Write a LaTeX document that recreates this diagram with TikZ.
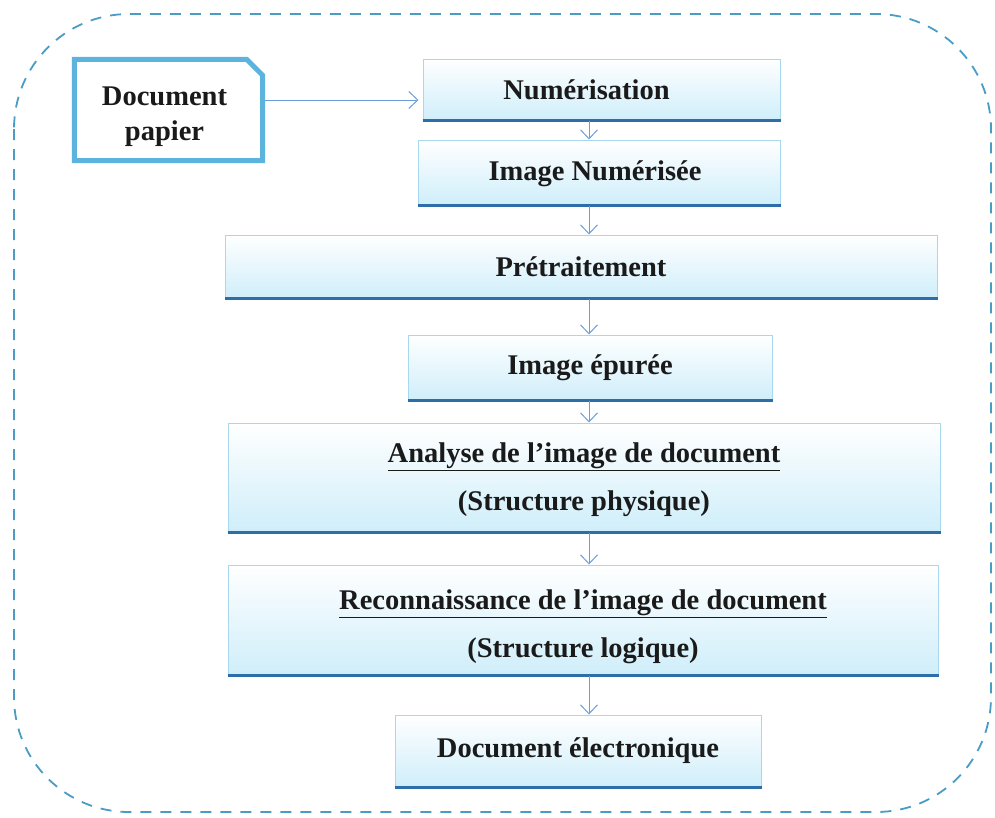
\documentclass[tikz,border=0pt]{standalone}
\usepackage{fontspec}
\setmainfont{Liberation Serif}
\usetikzlibrary{arrows.meta}
\definecolor{framecol}{HTML}{4A9CC4}
\definecolor{paperblue}{HTML}{5CB3DD}
\definecolor{arrowblue}{HTML}{6A9FDA}
\definecolor{boxedge}{HTML}{A8D8EE}
\definecolor{boxbottom}{HTML}{2D6EA8}
\definecolor{boxfill}{HTML}{CFEEFA}
\definecolor{inkcol}{HTML}{1A1A1A}
% text moved by (dx,dy) inside its node, node size unchanged
\newcommand\movedtext[3]{\hbox to 0pt{\hss\kern#1\kern#1\raisebox{#2}[\height][\depth]{#3}\hss}}
\begin{document}
\begin{tikzpicture}[x=1pt,y=-1pt,
  stepbox/.style={draw=boxedge, line width=1pt, top color=white, bottom color=boxfill,
    inner sep=0pt, text=inkcol, align=center,
    font=\bfseries\fontsize{28.5}{48}\selectfont},
  paperbox/.style={rectangle, fill=white, inner sep=0pt, text=inkcol, align=center,
    font=\bfseries\fontsize{28.5}{35}\selectfont},
  paperline/.style={draw=paperblue, line width=5pt, line join=miter},
  bottomline/.style={draw=boxbottom, line width=3pt},
  arr/.style={draw=arrowblue, line width=1pt, -{Straight Barb[length=9pt,width=17pt]}},
  frame/.style={draw=framecol, line width=1.8pt, dash pattern=on 11pt off 9pt, rounded corners=115pt}]
\useasboundingbox (0,0) rectangle (995,817);

% outer dashed frame
\draw[frame] (14,14) rectangle (991,812);

% process steps
\node[stepbox, minimum width=357pt, minimum height=61pt] (num) at (601.5,89.5)
  {\movedtext{-15pt}{0pt}{Numérisation}};
\node[stepbox, minimum width=362pt, minimum height=65pt] (imgnum) at (599,172.5)
  {\movedtext{-4pt}{-1pt}{Image Numérisée}};
\node[stepbox, minimum width=712pt, minimum height=63pt] (pretr) at (581,266.5) {Prétraitement};
\node[stepbox, minimum width=364pt, minimum height=65pt] (imgep) at (590,367.5) {Image épurée};
\node[stepbox, minimum width=712pt, minimum height=109pt] (analyse) at (584,477.5)
  {\movedtext{0pt}{-2pt}{\underline{Analyse de l’image de document}}\\
   \movedtext{0pt}{-2pt}{(Structure physique)}};
\node[stepbox, minimum width=710pt, minimum height=110pt] (recon) at (583,620)
  {\movedtext{0pt}{-7pt}{\underline{Reconnaissance de l’image de document}}\\
   \movedtext{0pt}{-7pt}{(Structure logique)}};
\node[stepbox, minimum width=366pt, minimum height=72pt] (docel) at (578,751) {Document électronique};

% darker lower edge of each step
\foreach \n in {num,imgnum,pretr,imgep,analyse,recon,docel}
  \draw[bottomline] (\n.south west) -- (\n.south east);

% paper document with a cut corner
\node[paperbox, minimum width=188pt, minimum height=101pt] (paper) at (168.5,110)
  {\movedtext{-4pt}{-7pt}{Document}\\ \movedtext{-4pt}{-7pt}{papier}};
\draw[paperline] (paper.south west) -- (paper.north west)
  -- ([xshift=-16pt]paper.north east) -- ([yshift=-16pt]paper.north east)
  -- (paper.south east) -- cycle;

% connectors
\coordinate (axis) at (589,0);
\coordinate (hrow) at (0,100);
\draw[arr, shorten <=2.5pt, shorten >=4pt] (paper.east |- hrow) -- (num.west |- hrow);
\draw[arr] (num.south -| axis) -- (imgnum.north -| axis);
\draw[arr] (imgnum.south -| axis) -- (pretr.north -| axis);
\draw[arr] (pretr.south -| axis) -- (imgep.north -| axis);
\draw[arr] (imgep.south -| axis) -- (analyse.north -| axis);
\draw[arr] (analyse.south -| axis) -- (recon.north -| axis);
\draw[arr] (recon.south -| axis) -- (docel.north -| axis);
\end{tikzpicture}
\end{document}
